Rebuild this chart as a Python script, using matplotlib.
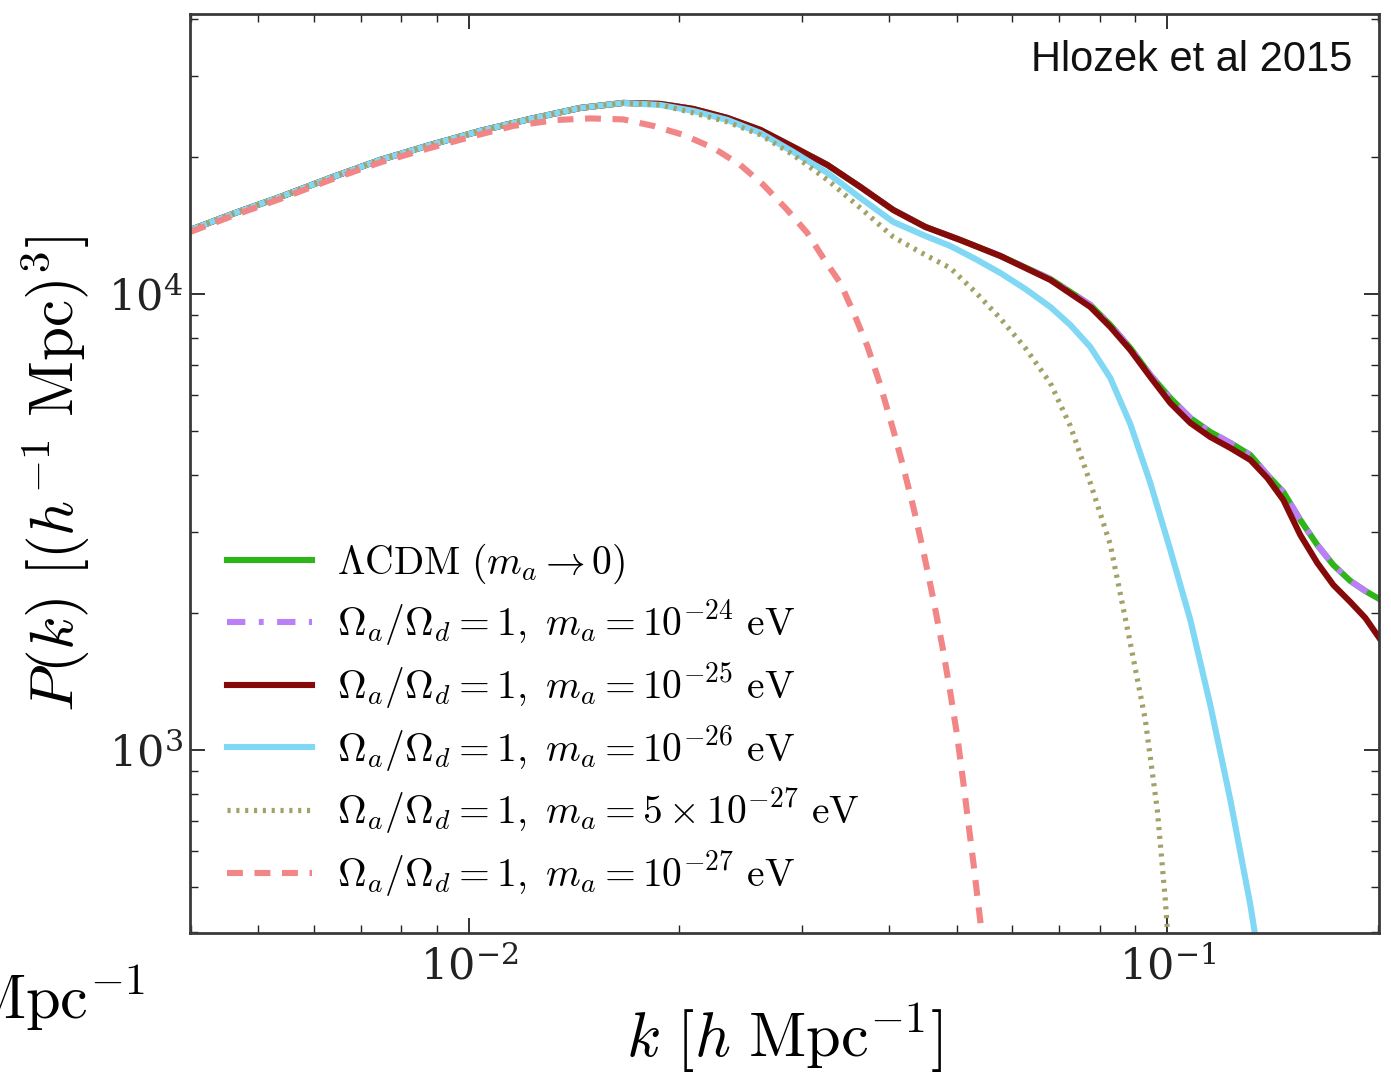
import numpy as np
import matplotlib
matplotlib.use("Agg")
import matplotlib.pyplot as plt
from matplotlib.ticker import LogLocator, NullFormatter

plt.rcParams["mathtext.fontset"] = "cm"
plt.rcParams["font.family"] = ["DejaVu Serif"]

# Linear matter power spectra: k in h/Mpc, P(k) in (Mpc/h)^3
k_base = [0.003993, 0.004631, 0.005372, 0.006334, 0.007468, 0.008806, 0.010386,
          0.012246, 0.014438, 0.016641, 0.018797, 0.020962, 0.023450, 0.026152,
          0.029146, 0.032615, 0.036350, 0.040520, 0.045033, 0.050529, 0.057672,
          0.067992, 0.077580, 0.082861, 0.088500, 0.094549, 0.100993, 0.10788,
          0.11521, 0.12309, 0.13148, 0.13904, 0.14657, 0.15501, 0.16396,
          0.17284, 0.18281, 0.19206, 0.20112]

# LCDM (m_a -> 0)
p_lcdm = [13814, 15053, 16320, 17965, 19674, 21219, 22779,
          24199, 25577, 26234, 26102, 25452, 24322, 22894,
          21006, 19183, 17167, 15283, 14030, 13135, 12115,
          10787, 9460, 8551, 7613, 6643, 5913, 5345,
          4981, 4713, 4435, 4010, 3680, 3194, 2815,
          2545, 2348, 2232, 2143]

# m_a = 1e-24 eV
p_m24 = [13814, 15053, 16320, 17965, 19674, 21219, 22779,
         24199, 25577, 26234, 26102, 25452, 24322, 22894,
         21006, 19183, 17167, 15283, 14030, 13135, 12115,
         10787, 9460, 8551, 7613, 6643, 5913, 5345,
         4981, 4713, 4435, 4010, 3680, 3194, 2815,
         2545, 2348, 2232, 2143]

# m_a = 1e-25 eV
p_m25 = [13814, 15053, 16320, 17965, 19674, 21219, 22779,
         24199, 25577, 26234, 26102, 25452, 24322, 22894,
         21006, 19183, 17167, 15283, 14030, 13135, 12115,
         10733, 9365, 8465, 7537, 6576, 5765, 5213,
         4857, 4595, 4325, 3949, 3534, 2961, 2571,
         2301, 2111, 1948, 1760]

# m_a = 1e-26 eV
k_m26 = [0.003993, 0.004631, 0.005372, 0.006334, 0.007468, 0.008806, 0.010386,
         0.012246, 0.014438, 0.016641, 0.018797, 0.020962, 0.023450, 0.026152,
         0.029146, 0.032615, 0.036350, 0.040520, 0.045033, 0.048890, 0.053103,
         0.057672, 0.062617, 0.067992, 0.072632, 0.077580, 0.082861, 0.088500,
         0.094549, 0.100993, 0.10788, 0.11521, 0.12309, 0.13148, 0.13677]
p_m26 = [13814, 15053, 16320, 17965, 19674, 21219, 22779,
         24199, 25577, 26234, 25968, 25194, 24077, 22548,
         20485, 18424, 16238, 14384, 13403, 12743, 11934,
         11118, 10256, 9365, 8551, 7652, 6543, 5187,
         3851, 2745, 1928, 1255, 776.9, 457.2, 313.0]

# m_a = 5e-27 eV
k_m5e27 = [0.003993, 0.004631, 0.005372, 0.006334, 0.007468, 0.008806, 0.010386,
           0.012246, 0.014438, 0.016641, 0.018797, 0.020962, 0.023450, 0.026152,
           0.029146, 0.032615, 0.036350, 0.040520, 0.045033, 0.048890, 0.053103,
           0.057672, 0.062617, 0.067992, 0.072632, 0.077580, 0.082861, 0.088500,
           0.093000, 0.096753, 0.099344, 0.10066]
p_m5e27 = [13814, 15053, 16320, 17965, 19674, 21219, 22779,
           24199, 25577, 26234, 25968, 24941, 23835, 22326,
           20177, 17783, 15439, 13335, 12177, 11402, 10101,
           8837, 7613, 6380, 5135, 3851, 2822, 1717,
           1164, 738.5, 468.8, 346]

# m_a = 1e-27 eV
k_m27 = [0.003993, 0.004631, 0.005372, 0.006334, 0.007468, 0.008806, 0.010386,
         0.011581, 0.013389, 0.014926, 0.016641, 0.018369, 0.020281, 0.022389,
         0.024475, 0.026412, 0.028576, 0.030519, 0.032170, 0.034024, 0.035521,
         0.037198, 0.038826, 0.040520, 0.041883, 0.043288, 0.044737, 0.046238,
         0.047629, 0.048890, 0.050031, 0.051032, 0.051879, 0.052753, 0.053453,
         0.053984, 0.054881]
p_m27 = [13675, 14902, 16156, 17783, 19427, 20901, 22382,
         23360, 24077, 24260, 24138, 23360, 22326, 20901,
         19183, 17342, 15283, 13607, 11994, 10571, 9131,
         7690, 6316, 5032, 4174, 3411, 2731, 2143,
         1691, 1340, 1073, 850.9, 695.1, 568.1, 478.4,
         421.7, 337.7]

labels = [
    r"$\Lambda\mathrm{CDM}\ (m_a \rightarrow 0)$",
    r"$\Omega_a/\Omega_d = 1,\ m_a = 10^{-24}\ \mathrm{eV}$",
    r"$\Omega_a/\Omega_d = 1,\ m_a = 10^{-25}\ \mathrm{eV}$",
    r"$\Omega_a/\Omega_d = 1,\ m_a = 10^{-26}\ \mathrm{eV}$",
    r"$\Omega_a/\Omega_d = 1,\ m_a = 5 \times 10^{-27}\ \mathrm{eV}$",
    r"$\Omega_a/\Omega_d = 1,\ m_a = 10^{-27}\ \mathrm{eV}$",
]

W, H = 1391, 1078
fig = plt.figure(figsize=(W / 100, H / 100), dpi=100)
ax = fig.add_axes([190 / W, 1 - 933 / H, (1379 - 190) / W, (933 - 14) / H])

lw = 4.4
style = dict(solid_joinstyle="round", dash_joinstyle="round")
ax.plot(k_base, p_lcdm, color="#2fb51b", lw=lw, ls="-", label=labels[0], **style)
ax.plot(k_base, p_m24, color="#bb80f7", lw=lw, ls=(0, (3, 2.2, 0.8, 2.2)), label=labels[1], **style)
ax.plot(k_base, p_m25, color="#870a0a", lw=lw, ls="-", label=labels[2], **style)
ax.plot(k_m26, p_m26, color="#80d8f4", lw=lw, ls="-", label=labels[3], **style)
ax.plot(k_m5e27, p_m5e27, color="#a2a266", lw=lw * 0.85, ls=(0, (0.6, 1.1)), label=labels[4], **style)
ax.plot(k_m27, p_m27, color="#f28585", lw=lw, ls=(0, (2.6, 1.9)), label=labels[5], **style)

ax.set_xscale("log")
ax.set_yscale("log")
ax.set_xlim(0.00399, 0.2009)
ax.set_ylim(397, 41100)

for sp in ax.spines.values():
    sp.set_linewidth(2.0)
    sp.set_color("#3a3a3a")

ax.tick_params(which="both", direction="in", top=True, right=True, labelsize=31, colors="#222222")
ax.tick_params(which="major", length=11, width=1.3)
ax.tick_params(axis="x", which="major", pad=10)
ax.tick_params(axis="y", which="major", pad=5)
ax.tick_params(which="minor", length=6, width=1.0)
ax.xaxis.set_minor_locator(LogLocator(base=10, subs=np.arange(2, 10), numticks=20))
ax.yaxis.set_minor_locator(LogLocator(base=10, subs=np.arange(2, 10), numticks=20))
ax.xaxis.set_minor_formatter(NullFormatter())
ax.yaxis.set_minor_formatter(NullFormatter())

ax.set_xlabel(r"$k\ [h\ \mathrm{Mpc}^{-1}]$", fontsize=45, labelpad=9)
ax.set_ylabel(r"$P(k)\ [(h^{-1}\ \mathrm{Mpc})^3]$", fontsize=44, labelpad=12)

leg = ax.legend(loc="upper left", bbox_to_anchor=((227 - 190) / 1189, 1 - (542 - 14) / 919),
                frameon=False, fontsize=28.5, handlelength=2.15, handletextpad=0.62,
                labelspacing=0.32, borderpad=0, borderaxespad=0)

ax.text((1352 - 190) / 1189, 1 - (40 - 14) / 919, "Hlozek et al 2015", transform=ax.transAxes,
        ha="right", va="top", fontsize=30, family=["Liberation Sans", "DejaVu Sans"],
        color="#111111")

fig.text(145 / W, 1 - 1019 / H, r"$\mathrm{Mpc}^{-1}$", fontsize=45, ha="right", va="baseline")

fig.savefig("out.png", dpi=100)
